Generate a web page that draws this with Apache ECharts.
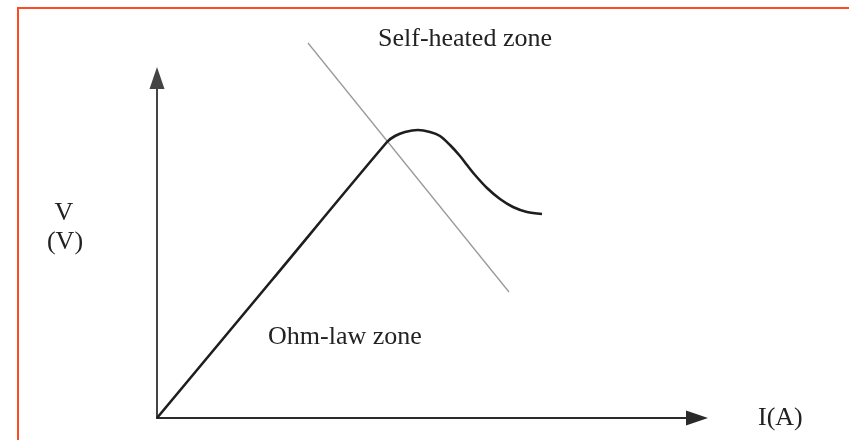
<!DOCTYPE html>
<html>
<head>
<meta charset="utf-8">
<script src="https://cdn.jsdelivr.net/npm/echarts@6/dist/echarts.min.js"></script>
<style>
html, body { margin: 0; padding: 0; background: #fff; }
#chart { width: 849px; height: 440px; }
</style>
</head>
<body>
<div id="chart"></div>
<script>
// 坐标单位: 与原图像素一致, 原点在两轴交点
var curveX = [0, 115, 230, 238, 248, 261, 273, 283, 293, 303, 310, 318, 330, 343, 356, 370, 385];
var curveY = [0, 138, 276, 282, 286, 288, 286, 282, 273, 262, 253, 243, 230, 219, 211, 206, 204];
var borderX = [151, 352];
var borderY = [375, 126];
var xMax = 540;
var yMax = 340;

function pairs(xs, ys) {
	var out = [];
	for (var i = 0; i < xs.length; i++) {
		out.push([xs[i], ys[i]]);
	}
	return out;
}

function initAxis(max, color) {
	return {
		type : 'value',
		min : 0,
		max : max,
		axisLine : {
			show : true,
			symbol : [ 'none', 'triangle' ],
			symbolSize : [ 15, 22 ],
			lineStyle : {
				color : color,
				width : 2
			}
		},
		axisTick : { show : false },
		axisLabel : { show : false },
		splitLine : { show : false }
	};
}

function label(text, x, y, align) {
	return {
		type : 'text',
		x : x,
		y : y,
		style : {
			text : text,
			font : '26px "Liberation Serif"',
			fill : '#222',
			align : align || 'left',
			verticalAlign : 'middle'
		}
	};
}

var option = {
	backgroundColor : '#fff',
	animation : false,
	grid : {
		left : 157,
		top : 78,
		width : xMax,
		height : yMax
	},
	xAxis : initAxis(xMax, '#2a2a2a'),
	yAxis : initAxis(yMax, '#444'),
	graphic : [
		{
			type : 'polyline',
			shape : { points : [ [ 18, 440 ], [ 18, 8 ], [ 849, 8 ] ] },
			style : { stroke : '#ff4a22', lineWidth : 2, fill : null }
		},
		label('Self-heated zone', 378, 39),
		label('Ohm-law zone', 268, 337),
		label('I(A)', 758, 418),
		label('V', 64, 213, 'center'),
		label('(V)', 65, 242, 'center')
	],
	series : [
		{
			type : 'line',
			data : pairs(borderX, borderY),
			symbol : 'none',
			clip : false,
			lineStyle : { color : '#9a9a9a', width : 1.3 }
		},
		{
			type : 'line',
			data : pairs(curveX, curveY),
			symbol : 'none',
			smooth : 0.3,
			clip : false,
			lineStyle : { color : '#1e1e1e', width : 2.6 }
		}
	]
};

var myChart = echarts.init(document.getElementById('chart'));
myChart.setOption(option, true);
</script>
</body>
</html>
